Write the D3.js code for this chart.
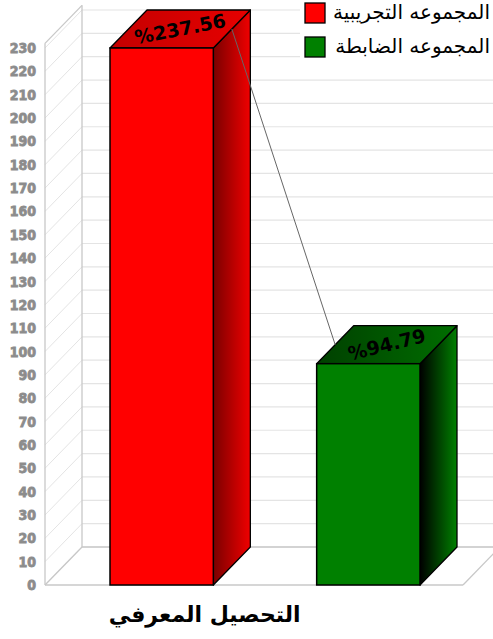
<!DOCTYPE html>
<html>
<head>
<meta charset="utf-8">
<script src="https://cdn.jsdelivr.net/npm/d3@7"></script>
<style>
  body { margin: 0; background: #fff; }
</style>
</head>
<body>
<div id="chart"></div>
<script>
var categories = ["المجموعه التجريبية", "المجموعه الضابطة"];
var values = [237.56, 94.79];
var valueLabels = ["%237.56", "%94.79"];
var yTicks = [0, 10, 20, 30, 40, 50, 60, 70, 80, 90, 100, 110, 120, 130, 140, 150, 160, 170, 180, 190, 200, 210, 220, 230];
var xLabel = "التحصيل المعرفي";

var width = 493, height = 639;
var depth = { dx: 37, dy: -38 };
var yMax = 230;

var svg = d3.select("#chart").append("svg")
    .attr("width", width)
    .attr("height", height);

var defs = svg.append("defs");
function grad(id, c1, c2) {
    var g = defs.append("linearGradient").attr("id", id)
        .attr("x1", "0%").attr("y1", "0%").attr("x2", "100%").attr("y2", "0%");
    g.append("stop").attr("offset", "0%").attr("stop-color", c1);
    g.append("stop").attr("offset", "100%").attr("stop-color", c2);
}
grad("side0", "#7a0000", "#f00000");
grad("top0", "#c40000", "#e60000");
grad("side1", "#000000", "#008000");
grad("top1", "#004000", "#006e00");
var fronts = ["#ff0000", "#008000"];

var y = d3.scaleLinear().domain([0, yMax]).range([585, 48]);
var x = d3.scaleBand().domain(categories).range([48, 482])
    .paddingInner(0.5).paddingOuter(0.3);

var left = 45, right = 463;
var yTop = y(232);

// back wall grid lines
svg.append("g").selectAll("line")
    .data(yTicks).enter().append("line")
    .attr("x1", left + depth.dx).attr("x2", width)
    .attr("y1", function(d) { return y(d) + depth.dy; })
    .attr("y2", function(d) { return y(d) + depth.dy; })
    .attr("stroke", "#e4e4e4").attr("stroke-width", 1.2);

// left wall diagonals
svg.append("g").selectAll("line")
    .data(yTicks).enter().append("line")
    .attr("x1", left).attr("x2", left + depth.dx)
    .attr("y1", function(d) { return y(d); })
    .attr("y2", function(d) { return y(d) + depth.dy; })
    .attr("stroke", "#e4e4e4").attr("stroke-width", 1);

// wall and floor edges
var edge = "#c8c8c8";
svg.append("line").attr("x1", left).attr("x2", left).attr("y1", y(0)).attr("y2", yTop)
    .attr("stroke", edge).attr("stroke-width", 1.3);
svg.append("line").attr("x1", left + depth.dx).attr("x2", left + depth.dx)
    .attr("y1", y(0) + depth.dy).attr("y2", yTop + depth.dy)
    .attr("stroke", edge).attr("stroke-width", 1.3);
svg.append("line").attr("x1", left).attr("x2", left + depth.dx)
    .attr("y1", yTop).attr("y2", yTop + depth.dy)
    .attr("stroke", edge).attr("stroke-width", 1.3);
svg.append("line").attr("x1", left).attr("x2", right).attr("y1", y(0)).attr("y2", y(0))
    .attr("stroke", edge).attr("stroke-width", 1.3);
svg.append("line").attr("x1", left).attr("x2", left + depth.dx)
    .attr("y1", y(0)).attr("y2", y(0) + depth.dy)
    .attr("stroke", edge).attr("stroke-width", 1.3);
svg.append("line").attr("x1", right).attr("x2", right + depth.dx)
    .attr("y1", y(0)).attr("y2", y(0) + depth.dy)
    .attr("stroke", edge).attr("stroke-width", 1.3);
svg.append("line").attr("x1", left + depth.dx).attr("x2", width)
    .attr("y1", y(0) + depth.dy).attr("y2", y(0) + depth.dy)
    .attr("stroke", edge).attr("stroke-width", 1.3);

// y tick labels
svg.append("g").selectAll("text")
    .data(yTicks).enter().append("text")
    .attr("x", 36)
    .attr("y", function(d) { return y(d); })
    .attr("dy", "0.36em")
    .attr("text-anchor", "end")
    .attr("font-family", "DejaVu Sans")
    .attr("font-stretch", "condensed")
    .attr("font-weight", "bold")
    .attr("font-size", "14px")
    .attr("fill", "#8c8c8c")
    .attr("stroke", "#8c8c8c")
    .attr("stroke-width", 0.8)
    .text(function(d) { return d; });

// bars
var bars = svg.append("g").selectAll("g")
    .data(values).enter().append("g");

function geom(d, i) {
    var x0 = x(categories[i]), x1 = x0 + x.bandwidth();
    var yt = y(Math.min(d, yMax)), yb = y(0);
    return { x0: x0, x1: x1, yt: yt, yb: yb };
}
function pts(a) { return a.map(function(p) { return p.join(","); }).join(" "); }

bars.append("polygon")
    .attr("points", function(d, i) {
        var g = geom(d, i);
        return pts([[g.x1, g.yt], [g.x1 + depth.dx, g.yt + depth.dy], [g.x1 + depth.dx, g.yb + depth.dy], [g.x1, g.yb]]);
    })
    .attr("fill", function(d, i) { return "url(#side" + i + ")"; })
    .attr("stroke", "#000").attr("stroke-width", 1.3).attr("stroke-linejoin", "round");
bars.append("polygon")
    .attr("points", function(d, i) {
        var g = geom(d, i);
        return pts([[g.x0, g.yt], [g.x0 + depth.dx, g.yt + depth.dy], [g.x1 + depth.dx, g.yt + depth.dy], [g.x1, g.yt]]);
    })
    .attr("fill", function(d, i) { return "url(#top" + i + ")"; })
    .attr("stroke", "#000").attr("stroke-width", 1.3).attr("stroke-linejoin", "round");
bars.append("rect")
    .attr("x", function(d, i) { return geom(d, i).x0; })
    .attr("y", function(d, i) { return geom(d, i).yt; })
    .attr("width", x.bandwidth())
    .attr("height", function(d, i) { var g = geom(d, i); return g.yb - g.yt; })
    .attr("fill", function(d, i) { return fronts[i]; })
    .attr("stroke", "#000").attr("stroke-width", 1.5);

// connecting line between bar tops
var g0 = geom(values[0], 0), g1 = geom(values[1], 1);
svg.append("line")
    .attr("x1", g0.x1 + depth.dx / 2).attr("y1", g0.yt + depth.dy / 2)
    .attr("x2", g1.x0 + depth.dx / 2).attr("y2", g1.yt + depth.dy / 2)
    .attr("stroke", "#666").attr("stroke-width", 1);

// value labels on top faces
bars.append("text")
    .attr("transform", function(d, i) {
        var g = geom(d, i);
        var cx = (g.x0 + g.x1) / 2 + depth.dx / 2, cy = g.yt + depth.dy / 2;
        return "translate(" + cx + " " + cy + ") rotate(" + (i ? -14 : -11) + ")";
    })
    .attr("text-anchor", "middle")
    .attr("dy", "0.35em")
    .attr("font-family", "DejaVu Sans")
    .attr("font-weight", "bold")
    .attr("font-size", "19px")
    .attr("fill", "#000")
    .text(function(d, i) { return valueLabels[i]; });

// legend
var legend = svg.append("g");
legend.append("rect").attr("x", 300).attr("y", 0).attr("width", 193).attr("height", 64).attr("fill", "#fff");
var items = legend.selectAll("g").data(categories).enter().append("g")
    .attr("transform", function(d, i) { return "translate(305 " + (3 + i * 34) + ")"; });
items.append("rect")
    .attr("width", 20).attr("height", 20)
    .attr("fill", function(d, i) { return fronts[i]; })
    .attr("stroke", "#000").attr("stroke-width", 1.3);
items.append("text")
    .attr("x", 185).attr("y", 16)
    .attr("text-anchor", "end")
    .attr("font-family", "DejaVu Sans")
    .attr("font-size", "20px")
    .attr("fill", "#000")
    .text(function(d) { return d; });

// x axis label
svg.append("text")
    .attr("x", x(categories[0]) + x.bandwidth() / 2 + depth.dx + 6)
    .attr("y", 622)
    .attr("text-anchor", "middle")
    .attr("font-family", "DejaVu Sans")
    .attr("font-weight", "bold")
    .attr("font-size", "22px")
    .attr("fill", "#000")
    .text(xLabel);
</script>
</body>
</html>
